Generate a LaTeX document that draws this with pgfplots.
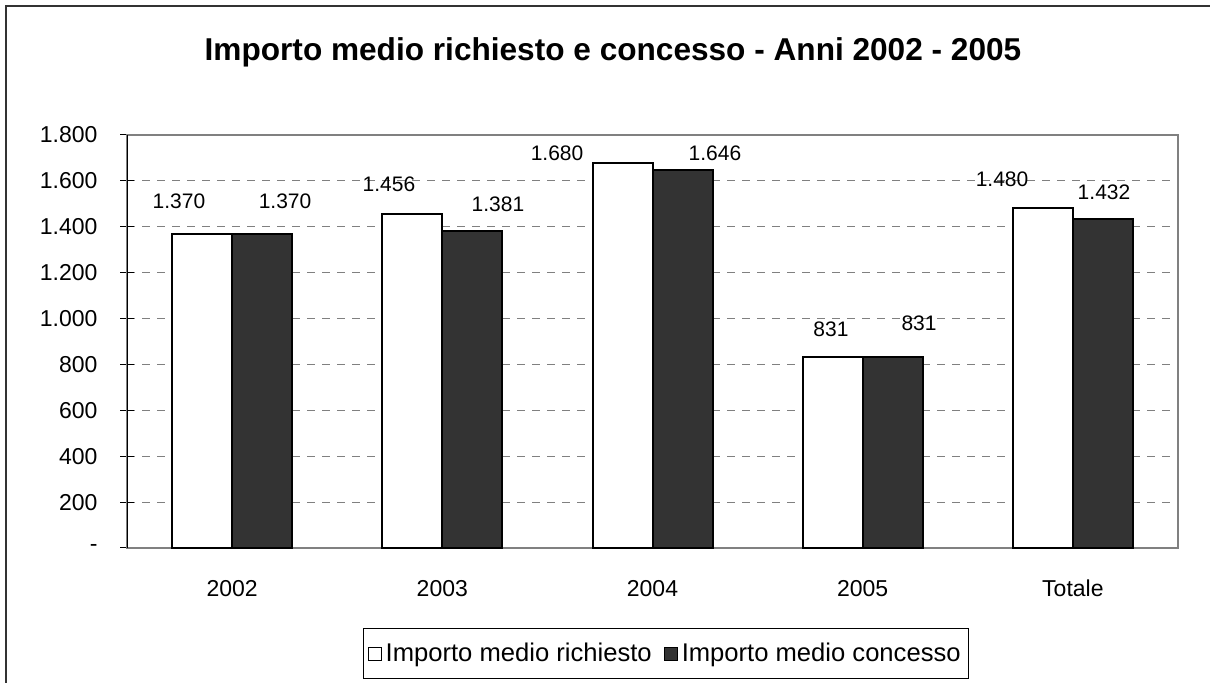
\documentclass[border=0pt]{standalone}
\usepackage{pgfplots}
\pgfplotsset{compat=1.18}
\usepackage{fontspec}
\setmainfont{Liberation Sans}
\definecolor{darkbar}{HTML}{333333}
\definecolor{gridgray}{HTML}{808080}
\begin{document}
\begin{tikzpicture}
\useasboundingbox (0,0) rectangle (605pt,341.5pt);
\draw[line width=1pt, darkbar] (3pt,-2pt) -- (3pt,338.5pt) -- (607pt,338.5pt);
\node[font=\fontsize{15.8pt}{18pt}\selectfont\bfseries] at (306.5pt,315.5pt) {Importo medio richiesto e concesso - Anni 2002 - 2005};
\begin{axis}[
  at={(63.5pt,67.5pt)}, anchor=south west,
  scale only axis, width=525.5pt, height=206.5pt,
  xmin=-0.5, xmax=4.5, ymin=0, ymax=1800,
  xtick={0,1,2,3,4}, xticklabels={2002,2003,2004,2005,Totale},
  xtick style={draw=none},
  xticklabel style={font=\fontsize{11.5pt}{13pt}\selectfont, anchor=base, yshift=-21pt},
  ytick={0,200,400,600,800,1000,1200,1400,1600,1800},
  yticklabels={-,200,400,600,800,1.000,1.200,1.400,1.600,1.800},
  yticklabel style={font=\fontsize{11.5pt}{13pt}\selectfont, xshift=-8pt},
  ytick pos=left, tick align=center, major tick length=6.5pt,
  ytick style={black, line width=0.5pt},
  ymajorgrids, grid style={gridgray, line width=0.6pt, dash pattern=on 4pt off 3.5pt},
  axis line style={gridgray, line width=1pt},
  clip=false,
  legend columns=2,
  legend style={at={(0.513,0)}, anchor=north, yshift=-40pt, draw=black, line width=0.5pt,
    font=\fontsize{12.8pt}{15pt}\selectfont, inner xsep=2pt, inner ysep=5pt,
    /tikz/every even column/.append style={column sep=4pt}},
]
\addplot[ybar, bar width=30pt, bar shift=-15pt, fill=white, draw=black, line width=1pt,
  legend image code/.code={\draw[fill=white, draw=black, line width=0.5pt] (0pt,-3.5pt) rectangle (6.5pt,3pt);}]
  coordinates {(0,1370) (1,1456) (2,1680) (3,831) (4,1480)};
\addlegendentry{Importo medio richiesto}
\addplot[ybar, bar width=30pt, bar shift=15pt, fill=darkbar, draw=black, line width=1pt,
  legend image code/.code={\draw[fill=darkbar, draw=black, line width=0.5pt] (0pt,-3.5pt) rectangle (6.5pt,3pt);}]
  coordinates {(0,1370) (1,1381) (2,1646) (3,831) (4,1432)};
\addlegendentry{Importo medio concesso}
\addplot[draw=none, mark=none, forget plot, nodes near coords, point meta=explicit symbolic,
  every node near coord/.append style={anchor=center, inner sep=0pt, font=\fontsize{10.5pt}{12pt}\selectfont}]
  table[meta=label]{
x y label
-0.253 1512 1.370
0.252 1512 1.370
0.746 1586 1.456
1.265 1499 1.381
1.546 1720 1.680
2.297 1722 1.646
2.849 954 831
3.268 981 831
3.663 1608 1.480
4.148 1552 1.432
};
\draw[black, line width=0.5pt] (rel axis cs:0,0) -- (rel axis cs:0,1);
\end{axis}
\end{tikzpicture}
\end{document}
